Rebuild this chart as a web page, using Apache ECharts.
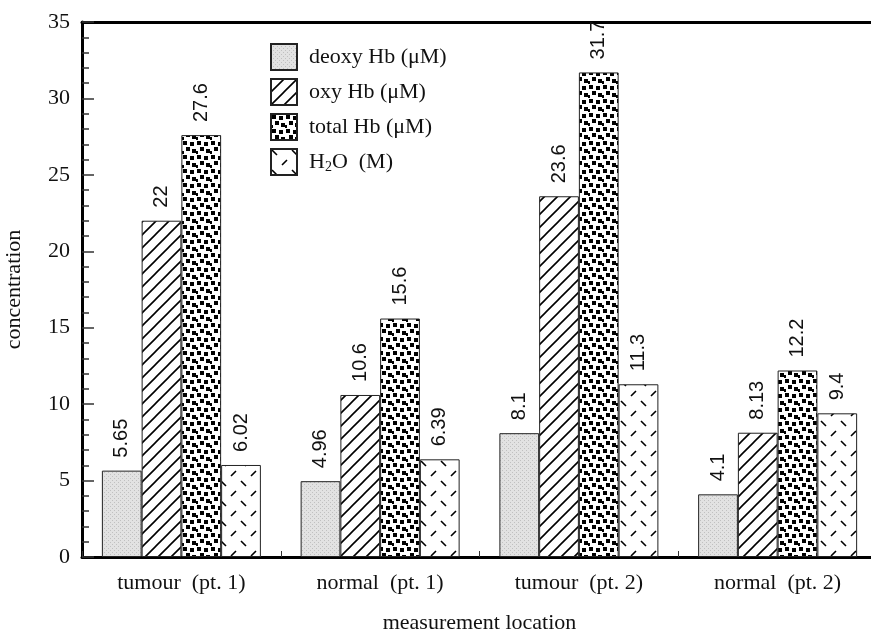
<!DOCTYPE html>
<html>
<head>
<meta charset="utf-8">
<script src="https://cdn.jsdelivr.net/npm/echarts@6/dist/echarts.min.js"></script>
<style>html,body{margin:0;padding:0;background:#fff;}#c{width:871px;height:635px;}</style>
</head>
<body>
<div id="c"></div>
<script>
var categories = ['tumour  (pt. 1)', 'normal  (pt. 1)', 'tumour  (pt. 2)', 'normal  (pt. 2)'];
var seriesNames = ['deoxy Hb (\u03BCM)', 'oxy Hb (\u03BCM)', 'total Hb (\u03BCM)', 'H2O  (M)'];
var deoxyHb = [5.65, 4.96, 8.1, 4.1];
var oxyHb = [22, 10.6, 23.6, 8.13];
var totalHb = [27.6, 15.6, 31.7, 12.2];
var water = [6.02, 6.39, 11.3, 9.4];
var yTicks = [0, 5, 10, 15, 20, 25, 30, 35];

function mk(w, h, draw) {
  var c = document.createElement('canvas');
  c.width = w; c.height = h;
  var g = c.getContext('2d');
  g.fillStyle = '#fff'; g.fillRect(0, 0, w, h);
  draw(g);
  return { image: c, repeat: 'repeat' };
}
var patDeoxy = mk(4, 4, function (g) {
  g.fillStyle = '#e2e2e2'; g.fillRect(0, 0, 4, 4);
  g.fillStyle = '#c0c0c0'; g.fillRect(0, 0, 1, 1); g.fillRect(2, 2, 1, 1);
});
var patOxy = mk(13, 13, function (g) {
  g.strokeStyle = '#000'; g.lineWidth = 1.6;
  g.beginPath();
  g.moveTo(-1, 14); g.lineTo(14, -1);
  g.moveTo(-2, 2); g.lineTo(2, -2);
  g.moveTo(11, 15); g.lineTo(15, 11);
  g.stroke();
});
var patTotal = mk(14, 14, function (g) {
  g.fillStyle = '#000';
  g.fillRect(1, 1, 4, 4); g.fillRect(8, 2, 4, 4);
  g.fillRect(4, 7, 4, 4); g.fillRect(10, 9, 4, 4);
  g.fillRect(0, 11, 2, 3);
});
var patWater = mk(20, 20, function (g) {
  g.strokeStyle = '#000'; g.lineWidth = 1.6;
  g.beginPath();
  g.moveTo(1, 1); g.lineTo(6, 6);
  g.moveTo(11, 16); g.lineTo(16, 11);
  g.stroke();
});

var serif = "'Liberation Serif', 'Times New Roman', serif";
var sans = "'Liberation Sans', Arial, sans-serif";

function bar(name, data, pat) {
  return {
    name: name, type: 'bar', data: data, z: 5,
    barGap: '0%', barCategoryGap: '20%',
    itemStyle: { color: pat, borderColor: '#222', borderWidth: 1 },
    label: {
      show: true, position: 'top', rotate: 90, align: 'left', verticalAlign: 'middle',
      distance: 13, fontFamily: sans, fontSize: 20, color: '#111'
    }
  };
}

var chart = echarts.init(document.getElementById('c'), null, { renderer: 'canvas' });
chart.setOption({
  animation: false,
  backgroundColor: '#fff',
  grid: { left: 82, top: 22, width: 795, height: 535, containLabel: false, outerBoundsMode: 'none' },
  legend: {
    orient: 'vertical', left: 270, top: 43, padding: 0, icon: 'rect',
    itemWidth: 26, itemHeight: 26, itemGap: 7,
    data: seriesNames,
    textStyle: {
      fontFamily: serif, fontSize: 22, color: '#111', padding: [0, 0, 0, 7],
      rich: {
        a: { fontFamily: serif, fontSize: 22, color: '#111' },
        s: { fontFamily: serif, fontSize: 14, color: '#111', verticalAlign: 'bottom', padding: [11, 0, 0, 0] }
      }
    },
    formatter: function (n) { return n === seriesNames[3] ? '{a|H}{s|2}{a|O  (M)}' : n; }
  },
  xAxis: [{
    type: 'category', data: categories, position: 'bottom',
    name: 'measurement location', nameLocation: 'middle', nameGap: 55,
    nameTextStyle: { fontFamily: serif, fontSize: 22, color: '#111' },
    axisLine: { lineStyle: { color: '#000', width: 3 } },
    axisTick: { show: true, inside: true, length: 6, lineStyle: { color: '#333', width: 1 } },
    axisLabel: { fontFamily: serif, fontSize: 22, color: '#111', margin: 15 }
  }, {
    type: 'category', data: categories, position: 'top', z: 0,
    axisLine: { lineStyle: { color: '#000', width: 3 } },
    axisTick: { show: false }, axisLabel: { show: false }
  }],
  yAxis: {
    type: 'value', min: yTicks[0], max: yTicks[yTicks.length - 1], interval: 5,
    name: 'concentration', nameLocation: 'middle', nameRotate: 90, nameGap: 57,
    nameTextStyle: { fontFamily: serif, fontSize: 22, color: '#111' },
    axisLine: { show: true, lineStyle: { color: '#000', width: 3 } },
    axisTick: { show: true, inside: true, length: 12, lineStyle: { color: '#333', width: 1.5 } },
    minorTick: { show: true, splitNumber: 5, length: 7, lineStyle: { color: '#333', width: 1.5 } },
    splitLine: { show: false },
    axisLabel: { fontFamily: serif, fontSize: 22, color: '#111', margin: 12 }
  },
  series: [
    bar(seriesNames[0], deoxyHb, patDeoxy),
    bar(seriesNames[1], oxyHb, patOxy),
    bar(seriesNames[2], totalHb, patTotal),
    bar(seriesNames[3], water, patWater)
  ]
});
</script>
</body>
</html>
